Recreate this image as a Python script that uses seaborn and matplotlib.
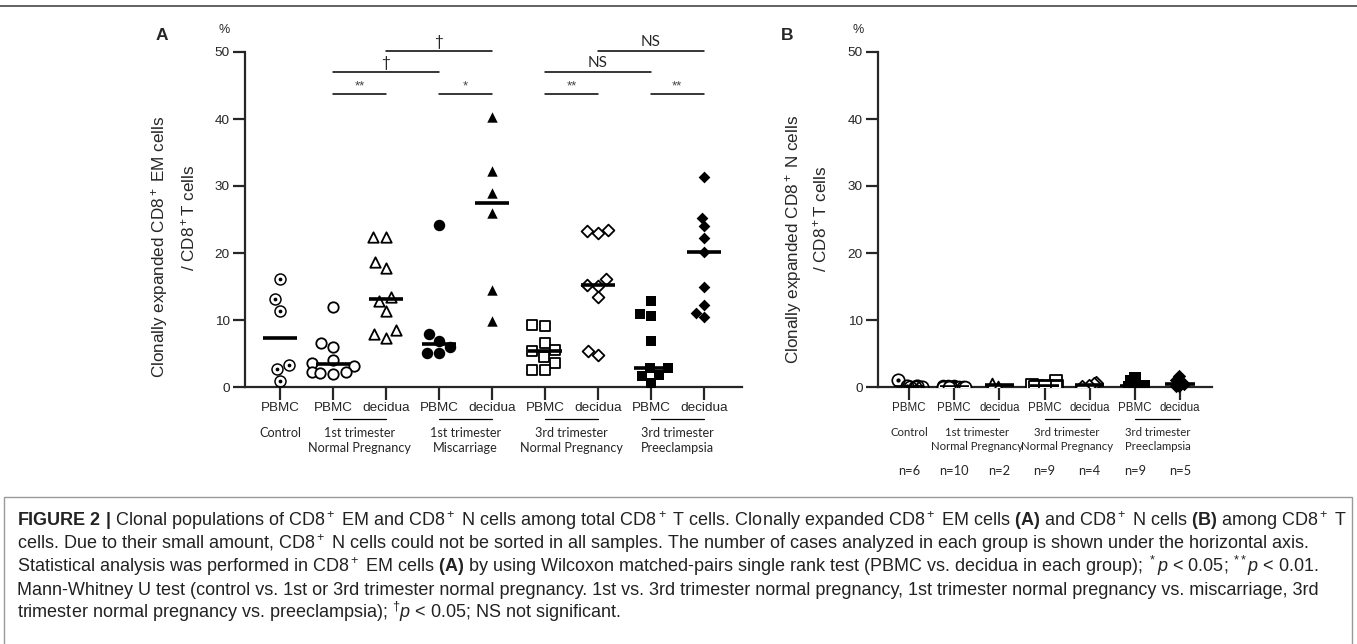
import warnings
import numpy as np
import pandas as pd
import matplotlib
matplotlib.use('Agg')
import matplotlib.pyplot as plt
from matplotlib.lines import Line2D
from matplotlib.patches import Rectangle
from matplotlib.path import Path
from matplotlib.transforms import Affine2D
import seaborn as sns

warnings.filterwarnings('ignore')

# ---- values ----
# Panel A: clonally expanded CD8+ EM cells / CD8+ T cells (%)
cats_a = ['ctrl', 'np1_pbmc', 'np1_dec', 'mc_pbmc', 'mc_dec',
          'np3_pbmc', 'np3_dec', 'pe_pbmc', 'pe_dec']
ticks_a = ['PBMC', 'PBMC', 'decidua', 'PBMC', 'decidua',
           'PBMC', 'decidua', 'PBMC', 'decidua']
em_ctrl = [16.1, 13.1, 11.4, 3.3, 2.7, 0.9]
em_np1_pbmc = [12.0, 6.6, 6.0, 4.0, 3.6, 3.2, 2.3, 2.2, 2.1, 2.0]
em_np1_dec = [22.4, 22.4, 18.7, 17.8, 13.5, 12.9, 11.4, 8.5, 7.9, 7.3]
em_mc_pbmc = [24.2, 7.9, 6.9, 5.9, 5.1, 5.1]
em_mc_dec = [40.3, 32.3, 28.9, 25.9, 14.5, 9.9]
em_np3_pbmc = [9.2, 9.1, 6.6, 5.5, 5.3, 4.5, 3.6, 2.5, 2.5]
em_np3_dec = [23.5, 23.3, 23.0, 16.1, 15.2, 15.1, 13.4, 5.3, 4.8]
em_pe_pbmc = [12.9, 10.9, 10.6, 6.8, 2.9, 2.8, 1.8, 1.7, 0.6]
em_pe_dec = [31.4, 25.2, 24.0, 22.2, 20.2, 14.9, 12.3, 11.1, 10.5]
groups_a = [('Control', [0]), ('1st trimester\nNormal Pregnancy', [1, 2]),
            ('1st trimester\nMiscarriage', [3, 4]),
            ('3rd trimester\nNormal Pregnancy', [5, 6]),
            ('3rd trimester\nPreeclampsia', [7, 8])]
# significance brackets: (from, to, label)
sig_pairs = [(1, 2, '**'), (3, 4, '*'), (1, 3, '\u2020'), (2, 4, '\u2020'),
             (5, 6, '**'), (7, 8, '**'), (5, 7, 'NS'), (6, 8, 'NS')]
sig_y = [43.7, 43.7, 47.0, 50.1, 43.7, 43.7, 47.0, 50.1]

# Panel B: clonally expanded CD8+ N cells / CD8+ T cells (%)
cats_b = ['ctrl', 'np1_pbmc', 'np1_dec', 'np3_pbmc', 'np3_dec', 'pe_pbmc', 'pe_dec']
ticks_b = ['PBMC', 'PBMC', 'decidua', 'PBMC', 'decidua', 'PBMC', 'decidua']
n_ctrl = [1.1, 0.2, 0.1, 0.0, 0.0, 0.0]
n_np1_pbmc = [0.1, 0.1, 0.1, 0.0, 0.0, 0.0, 0.0, 0.0, 0.0, 0.0]
n_np1_dec = [0.5, 0.0]
n_np3_pbmc = [0.9, 0.3, 0.2, 0.1, 0.1, 0.0, 0.0, 0.0, 0.0]
n_np3_dec = [0.6, 0.5, 0.2, 0.0]
n_pe_pbmc = [1.4, 0.9, 0.3, 0.2, 0.1, 0.1, 0.0, 0.0, 0.0]
n_pe_dec = [1.6, 1.1, 0.4, 0.2, 0.1]
groups_b = [('Control', [0]), ('1st trimester\nNormal Pregnancy', [1, 2]),
            ('3rd trimester\nNormal Pregnancy', [3, 4]),
            ('3rd trimester\nPreeclampsia', [5, 6])]
n_labels = ['n=6', 'n=10', 'n=2', 'n=9', 'n=4', 'n=9', 'n=5']

# ring with a centre dot for the control group
circ = Path.unit_circle()
dot_ring = Path.make_compound_path(
    circ, circ.transformed(Affine2D().scale(-0.76, 0.76)),
    circ.transformed(Affine2D().scale(0.3)))

# marker, filled, size scale
styles = {'ctrl': (dot_ring, True, 1.2), 'np1_pbmc': ('o', False, 1.0),
          'np1_dec': ('^', False, 1.0), 'mc_pbmc': ('o', True, 1.1),
          'mc_dec': ('^', True, 1.0), 'np3_pbmc': ('s', False, 1.0),
          'np3_dec': ('D', False, 0.8), 'pe_pbmc': ('s', True, 1.05),
          'pe_dec': ('D', True, 0.8)}

df_a = pd.concat([pd.DataFrame({'group': g, 'value': v}) for g, v in zip(cats_a, [
    em_ctrl, em_np1_pbmc, em_np1_dec, em_mc_pbmc, em_mc_dec,
    em_np3_pbmc, em_np3_dec, em_pe_pbmc, em_pe_dec])], ignore_index=True)
df_b = pd.concat([pd.DataFrame({'group': g, 'value': v}) for g, v in zip(cats_b, [
    n_ctrl, n_np1_pbmc, n_np1_dec, n_np3_pbmc, n_np3_dec, n_pe_pbmc, n_pe_dec])],
    ignore_index=True)

sns.set_style('ticks')
plt.rcParams['font.family'] = ['Liberation Sans', 'DejaVu Sans']
plt.rcParams['mathtext.fontset'] = 'custom'
plt.rcParams['mathtext.rm'] = 'Liberation Sans'
plt.rcParams['mathtext.it'] = 'Liberation Sans:italic'
plt.rcParams['mathtext.bf'] = 'Liberation Sans:bold'

W, H = 1357, 644
fig = plt.figure(figsize=(W / 100, H / 100), dpi=100)
ax_a = fig.add_axes([245 / W, 1 - 387 / H, 497 / W, 335 / H])
ax_b = fig.add_axes([878 / W, 1 - 387 / H, 334 / W, 335 / H])


def draw_panel(ax, df, cats, kind, msize):
    for g in cats:
        m, filled, scale = styles[g]
        kw = dict(data=df[df.group == g], x='group', y='value', order=cats, ax=ax,
                  marker=m, size=msize * scale, color='black' if filled else 'white',
                  edgecolor='black', linewidth=0 if filled else 1.3, zorder=3)
        if kind == 'swarm':
            sns.swarmplot(**kw)
        else:
            sns.stripplot(jitter=0.3, **kw)
        ax.collections[-1].set_clip_on(False)
    sns.boxplot(data=df, x='group', y='value', order=cats, ax=ax, width=0.65,
                showbox=False, showcaps=False, showfliers=False,
                whiskerprops={'visible': False},
                medianprops={'color': 'black', 'lw': 2.6, 'zorder': 5})
    ax.set_ylim(0, 50)
    ax.set_yticks(range(0, 51, 10))
    ax.set_xlabel('')
    ax.set_ylabel('')
    sns.despine(ax=ax)
    for s in ['left', 'bottom']:
        ax.spines[s].set_linewidth(1.6)
    ax.tick_params(length=9, width=1.6, pad=2, labelsize=9.7)


np.random.seed(7)
draw_panel(ax_a, df_a, cats_a, 'swarm', 7.5)
draw_panel(ax_b, df_b, cats_b, 'strip', 8.5)
ax_a.set_xticks(range(len(cats_a)), ticks_a)
ax_b.set_xticks(range(len(cats_b)), ticks_b)
ax_b.tick_params(axis='x', labelsize=8.3)
ax_a.set_xlim(-0.66, 8.72)
ax_b.set_xlim(-0.69, 6.71)

# significance bars
for (i, j, lab), y in zip(sig_pairs, sig_y):
    ax_a.plot([i, j], [y, y], color='black', lw=1.1, clip_on=False)
    if '*' in lab:
        ax_a.text((i + j) / 2, y + 0.3, lab, ha='center', va='bottom',
                  fontsize=9.5, color='#444')
    else:
        ax_a.text((i + j) / 2, y + 0.3, lab, ha='center', va='bottom',
                  fontsize=11, family='Lato')


def group_labels(ax, groups, fs):
    tr = ax.get_xaxis_transform()
    for lab, pos in groups:
        if len(pos) > 1:
            ax.plot([pos[0], pos[-1]], [-0.095, -0.095], transform=tr,
                    color='black', lw=0.9, clip_on=False)
        ax.text(np.mean(pos), -0.12, lab, transform=tr, ha='center', va='top',
                fontsize=fs, family='Lato', linespacing=1.3)


group_labels(ax_a, groups_a, 9.1)
group_labels(ax_b, groups_b, 8.2)
for k, lab in enumerate(n_labels):
    ax_b.text(k, -0.25, lab, transform=ax_b.get_xaxis_transform(), ha='center',
              va='center', fontsize=9.3, family='Lato')

# axis decorations
for ax, x_pct in [(ax_a, -0.042), (ax_b, -0.06)]:
    ax.text(x_pct, 1.066, '%', transform=ax.transAxes, ha='center', va='center', fontsize=9)
fig.text(162 / W, 1 - 35 / H, 'A', fontsize=12.5, fontweight='bold', ha='center', va='center')
fig.text(787 / W, 1 - 35 / H, 'B', fontsize=12.5, fontweight='bold', ha='center', va='center')
fig.text(160 / W, 1 - 247 / H, 'Clonally expanded CD8$^+$ EM cells', rotation=90,
         ha='center', va='center', fontsize=12.3)
fig.text(188 / W, 1 - 218 / H, '/ CD8$^+$T cells', rotation=90,
         ha='center', va='center', fontsize=12.3)
fig.text(794 / W, 1 - 239 / H, 'Clonally expanded CD8$^+$ N cells', rotation=90,
         ha='center', va='center', fontsize=12.3)
fig.text(820 / W, 1 - 219 / H, '/ CD8$^+$T cells', rotation=90,
         ha='center', va='center', fontsize=12.3)

# frame and caption
fig.add_artist(Line2D([0, 1], [1 - 6 / H] * 2, color='#555', lw=1.3, transform=fig.transFigure))
fig.add_artist(Rectangle((4 / W, -0.02), 1348 / W, 0.02 + (H - 497) / H, fill=False,
                         ec='#999', lw=1.0, transform=fig.transFigure))
caption = [
    r'$\mathbf{FIGURE\ 2\ |}$ Clonal populations of CD8$^+$ EM and CD8$^+$ N cells among total CD8$^+$ T cells. '
    r'Clonally expanded CD8$^+$ EM cells $\mathbf{(A)}$ and CD8$^+$ N cells $\mathbf{(B)}$ among CD8$^+$ T',
    r'cells. Due to their small amount, CD8$^+$ N cells could not be sorted in all samples. '
    r'The number of cases analyzed in each group is shown under the horizontal axis.',
    r'Statistical analysis was performed in CD8$^+$ EM cells $\mathbf{(A)}$ by using Wilcoxon matched-pairs '
    r'single rank test (PBMC vs. decidua in each group); $^*\mathit{p}$ < 0.05; $^{**}\mathit{p}$ < 0.01.',
    r'Mann-Whitney U test (control vs. 1st or 3rd trimester normal pregnancy. 1st vs. 3rd trimester normal '
    r'pregnancy, 1st trimester normal pregnancy vs. miscarriage, 3rd',
    r'trimester normal pregnancy vs. preeclampsia); $^{\dagger}\mathit{p}$ < 0.05; NS not significant.',
]
for k, line in enumerate(caption):
    fig.text(17 / W, 1 - (526 + 23 * k) / H, line, ha='left', va='baseline',
             fontsize=12.95, color='#222')

fig.savefig('out.png', dpi=100)
